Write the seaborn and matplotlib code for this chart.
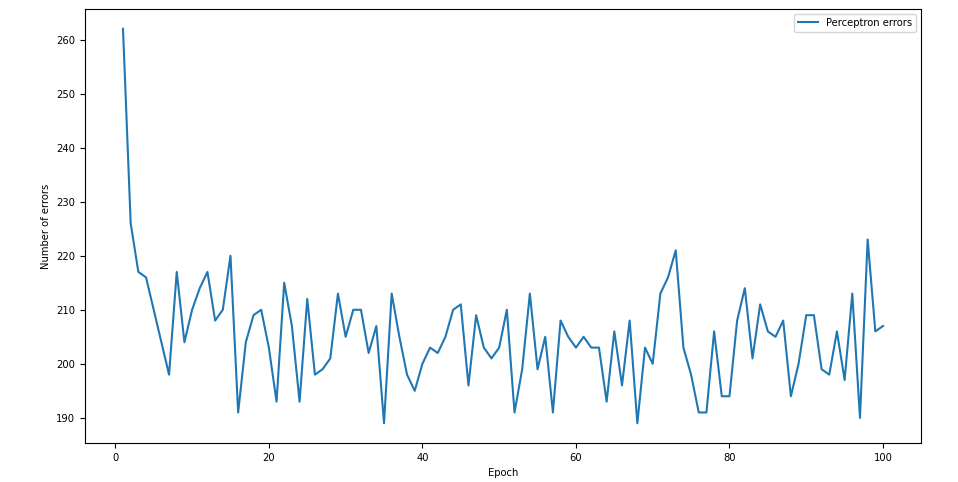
import matplotlib
matplotlib.use("Agg")
import matplotlib.pyplot as plt
import seaborn as sns
import pandas as pd

epochs = list(range(1, 101))
errors = [262, 226, 217, 216, 210, 204, 198, 217, 204, 210,
          214, 217, 208, 210, 220, 191, 204, 209, 210, 203,
          193, 215, 207, 193, 212, 198, 199, 201, 213, 205,
          210, 210, 202, 207, 189, 213, 205, 198, 195, 200,
          203, 202, 205, 210, 211, 196, 209, 203, 201, 203,
          210, 191, 199, 213, 199, 205, 191, 208, 205, 203,
          205, 203, 203, 193, 206, 196, 208, 189, 203, 200,
          213, 216, 221, 203, 198, 191, 191, 206, 194, 194,
          208, 214, 201, 211, 206, 205, 208, 194, 200, 209,
          209, 199, 198, 206, 197, 213, 190, 223, 206, 207]
series_label = "Perceptron errors"

df = pd.DataFrame({"Epoch": epochs, "errors": errors})

plt.rcParams["font.size"] = 7.2
plt.rcParams["font.family"] = ["DejaVu Sans"]

fig = plt.figure(figsize=(9.58, 4.82), dpi=100)
ax = fig.add_axes([85/958, 1 - 443/482, (921 - 85)/958, (443 - 9)/482])
sns.lineplot(data=df, x="Epoch", y="errors", ax=ax, color="#1f77b4",
             linewidth=1.5, label=series_label)
ax.set_xlabel("Epoch")
ax.set_ylabel("Number of errors")
ax.set_xticks([0, 20, 40, 60, 80, 100])
ax.set_yticks([190, 200, 210, 220, 230, 240, 250, 260])
ax.legend(loc="upper right")
fig.savefig("out.png", dpi=100)
